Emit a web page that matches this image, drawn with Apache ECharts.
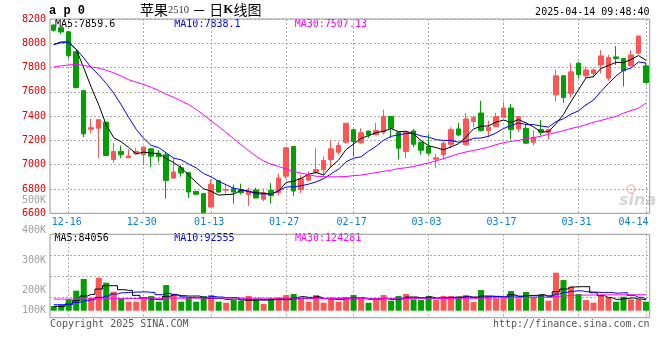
<!DOCTYPE html>
<html><head><meta charset="utf-8">
<script src="https://cdn.jsdelivr.net/npm/echarts@6/dist/echarts.min.js"></script>
<style>html,body{margin:0;padding:0;background:#fff}#c{width:660px;height:360px}</style>
</head><body><div id="c"></div>
<script>
// ---- data ----
const dates = ['12-12','12-13','12-16','12-17','12-18','12-19','12-20','12-23','12-24','12-25','12-26','12-27','12-30','12-31',
'01-02','01-03','01-06','01-07','01-08','01-09','01-10','01-13','01-14','01-15','01-16','01-17','01-20','01-21','01-22','01-23','01-24','01-27',
'02-05','02-06','02-07','02-10','02-11','02-12','02-13','02-14','02-17','02-18','02-19','02-20','02-21','02-24','02-25','02-26','02-27','02-28',
'03-03','03-04','03-05','03-06','03-07','03-10','03-11','03-12','03-13','03-14','03-17','03-18','03-19','03-20','03-21','03-24','03-25','03-26','03-27','03-28','03-31',
'04-01','04-02','04-03','04-07','04-08','04-09','04-10','04-11','04-14'];
const xTickLabels = ['12-16','12-30','01-13','01-27','02-17','03-03','03-17','03-31','04-14'];

const opens = [8150,8128,8095,7930,7610,7292,7300,7350,7043,7108,
7057,7090,7084,7131,7095,7082,6890,6975,6935,6781,
6762,6652,6868,6790,6803,6789,6754,6792,6715,6789,
6770,6906,7150,6795,6873,6939,6958,7043,7103,7185,
7289,7180,7277,7248,7267,7398,7267,7109,7278,7185,
7150,7046,7082,7168,7295,7164,7355,7426,7281,7314,
7390,7467,7295,7300,7185,7289,7267,7576,7732,7587,
7836,7732,7751,7822,7713,7888,7874,7814,7918,7814];
const closes = [8107,8093,7900,7636,7254,7305,7371,7076,7109,7082,
7072,7110,7145,7070,7065,6871,6940,6931,6775,6757,
6605,6838,6775,6797,6775,6770,6783,6726,6770,6745,
6890,7139,6783,6885,6912,6961,7035,7131,7158,7341,
7191,7264,7245,7281,7398,7300,7136,7267,7168,7119,
7095,7057,7177,7289,7245,7377,7387,7281,7308,7396,
7467,7289,7396,7177,7226,7267,7289,7732,7554,7765,
7743,7781,7781,7896,7882,7874,7773,7904,8060,7677];
const lows = [8095,8075,7875,7628,7226,7259,7054,7070,7016,7054,
7055,7082,6995,6980,7020,6720,6885,6901,6726,6750,
6600,6650,6770,6762,6680,6754,6660,6724,6701,6680,
6748,6885,6742,6767,6870,6926,6912,6980,7082,7172,
7070,7172,7221,7245,7248,7221,7043,7054,7144,7082,
7082,6975,7043,7136,7234,7160,7308,7273,7226,7310,
7388,7213,7267,7175,7158,7240,7207,7521,7508,7554,
7710,7710,7716,7751,7691,7822,7644,7806,7910,7675];
const highs = [8155,8130,8100,7935,7612,7377,7375,7352,7180,7158,
7125,7136,7150,7135,7120,7105,7050,6998,6938,6785,
6765,6880,6870,6830,6836,6844,6811,6811,6803,6849,
6926,7142,7152,6918,6945,7136,7070,7199,7185,7343,
7292,7300,7280,7344,7453,7400,7270,7275,7292,7190,
7254,7090,7193,7308,7344,7426,7404,7527,7363,7426,
7519,7500,7398,7336,7281,7369,7292,7781,7740,7836,
7847,7806,7795,7943,7904,7978,7880,7943,8062,7841];

const ma5 = [7990,8012,8010,7950,7798,7638,7493,7328,7223,7189,
7142,7090,7104,7096,7092,7052,7018,6975,6916,6855,
6802,6781,6750,6754,6758,6791,6780,6770,6765,6759,
6783,6854,6865,6888,6922,6936,6915,6985,7039,7125,
7171,7217,7240,7264,7276,7298,7272,7276,7254,7198,
7157,7141,7123,7147,7173,7229,7295,7316,7320,7350,
7368,7348,7371,7345,7311,7271,7271,7338,7414,7521,
7617,7715,7725,7793,7817,7843,7841,7866,7899,7860];
const ma10 = [7990,8005,8005,7950,7880,7800,7740,7670,7590,7493,
7390,7292,7216,7159,7141,7097,7054,7040,7006,6974,
6927,6900,6863,6835,6806,6796,6781,6760,6760,6758,
6787,6817,6818,6827,6840,6859,6885,6925,6964,7024,
7054,7066,7112,7152,7201,7234,7245,7258,7259,7237,
7227,7207,7200,7201,7185,7193,7218,7220,7234,7261,
7298,7322,7344,7332,7330,7319,7310,7355,7379,7416,
7444,7493,7532,7603,7669,7730,7778,7795,7846,7838];
const ma30 = [7805,7814,7822,7826,7818,7805,7795,7778,7757,7730,
7700,7680,7660,7638,7612,7580,7555,7525,7495,7455,
7410,7360,7315,7265,7215,7165,7115,7070,7030,7005,
6985,6965,6945,6930,6918,6905,6902,6900,6901,6903,
6910,6915,6925,6935,6945,6955,6968,6975,6985,7000,
7015,7032,7050,7070,7090,7105,7118,7130,7145,7165,
7182,7192,7200,7215,7222,7235,7250,7265,7280,7298,
7312,7330,7350,7365,7382,7398,7425,7445,7465,7507];

// volume in thousands of lots
const volumes = [36.2,43.9,87.9,155.1,245.6,100.8,255.9,217.1,147.3,95.6,
69.8,69.8,103.4,113.7,69.8,199.0,131.8,69.8,103.4,69.8,
113.7,121.5,69.8,62.0,82.7,77.6,113.7,82.7,51.7,95.6,
103.4,121.5,129.3,95.6,69.8,121.5,62.0,103.4,69.8,103.4,
121.5,95.6,62.0,82.7,121.5,77.6,113.7,129.3,87.9,82.7,
113.7,82.7,113.7,113.7,108.6,121.5,67.2,160.3,113.7,95.6,
95.6,152.5,95.6,144.8,103.4,121.5,77.6,294.7,237.8,186.1,
129.3,82.7,62.0,121.5,103.4,69.8,108.6,87.9,87.9,69.8];
const volMa5 = [33.6,33.6,51.7,77.6,113.7,126.7,168.0,193.9,193.9,162.9,
157.7,118.9,98.2,90.5,85.3,111.2,124.1,116.3,113.7,113.7,
98.2,95.6,95.6,87.9,90.5,82.7,80.1,82.7,82.7,85.3,
90.5,90.5,100.8,108.6,103.4,108.6,95.6,90.5,85.3,93.1,
93.1,98.2,90.5,93.1,95.6,87.9,90.5,106.0,106.0,98.2,
106.0,98.2,95.6,100.8,106.0,108.6,106.0,113.7,113.7,111.2,
106.0,124.1,111.2,116.3,118.9,124.1,108.6,147.3,168.0,183.5,
186.1,186.1,139.6,116.3,100.8,87.9,93.1,98.2,90.5,84.1];
const volMa10 = [46.5,46.5,46.5,64.6,77.6,85.3,103.4,113.7,129.3,138.6,
141.9,144.5,146.1,141.9,124.3,134.2,121.8,107.0,102.6,100.0,
104.4,109.6,106.2,101.1,102.4,90.2,88.4,89.7,84.5,87.1,
86.1,86.1,92.0,95.4,94.1,98.5,93.3,95.4,97.2,98.0,
99.8,97.2,90.5,89.2,94.4,90.0,95.1,97.7,99.5,97.5,
96.7,95.4,100.6,103.7,102.4,106.8,102.1,105.2,107.8,109.1,
107.3,114.3,112.4,115.5,115.0,115.0,116.1,129.5,141.9,151.0,
154.3,147.3,144.0,141.7,141.7,136.5,139.6,118.9,103.9,92.6];
const volMa30 = [90.5,90.0,89.6,89.9,90.8,91.4,92.3,93.1,93.8,94.1,
94.6,95.0,95.3,95.9,96.0,96.6,97.1,97.0,97.2,97.5,
97.8,98.1,98.0,97.7,97.9,97.6,97.4,97.0,96.8,96.5,
96.9,97.3,97.6,97.2,96.5,96.1,95.2,94.5,93.8,93.9,
94.4,94.6,94.1,93.5,93.8,92.8,92.3,93.0,93.4,93.6,
93.9,93.7,94.4,95.2,95.6,96.3,96.0,97.1,98.4,99.0,
99.3,100.6,100.9,101.8,102.6,103.3,103.9,110.9,116.3,119.2,
120.5,120.9,121.3,122.6,122.8,123.2,123.6,123.5,123.9,124.3];
const volTickLabels = [100,200,300,400,500];

// ---- chart ----
const MONO = '"DejaVu Sans Mono", monospace';
const RED = '#ff5555', GREEN = '#00a000';
const GRID_LINE = {color:'#aaaaaa', type:[2,2], width:1};
const isTick = (i, v) => xTickLabels.indexOf(v) >= 0;
const candles = dates.map((d,i)=>[opens[i], closes[i], lows[i], highs[i]]);
const L = 50, W = 599.7;

const chart = echarts.init(document.getElementById('c'), null, {renderer:'canvas', width:660, height:360});
const lineS = (name, data, color, xi, yi, step) => ({
  name, type:'line', data, xAxisIndex:xi, yAxisIndex:yi, symbol:'none', silent:true,
  step: step || false, lineStyle:{color, width:1}, z:5
});
const txt = (x, y, s, color, extra) => ({type:'text', x, y, silent:true,
  style:Object.assign({text:s, fill:color, font:'10px ' + MONO, verticalAlign:'middle'}, extra||{})});

chart.setOption({
  animation:false,
  backgroundColor:'#fff',
  grid:[
    {left:L, top:19, width:W, height:194.3, show:true, borderColor:'#999', borderWidth:1, backgroundColor:'transparent'},
    {left:L, top:234.3, width:W, height:83.4, show:true, borderColor:'#999', borderWidth:1, backgroundColor:'transparent'},
    {left:L, top:200.7, width:W, height:120, show:false}
  ],
  xAxis:[
    {type:'category', gridIndex:0, data:dates, boundaryGap:true,
     axisLine:{show:false}, axisTick:{show:false},
     axisLabel:{interval:isTick, showMaxLabel:true, showMinLabel:true, hideOverlap:false, margin:4,
       formatter:v => v === '04-14' ? '{e|' + v + '}' : '{n|' + v + '}',
       rich:{
         n:{fontFamily:MONO, fontSize:10, color:'#0a7fe0', padding:[0,4,0,0]},
         e:{fontFamily:MONO, fontSize:10, color:'#0a7fe0', padding:[0,25,0,0]}
       }},
     splitLine:{show:true, alignWithLabel:true, interval:isTick, lineStyle:GRID_LINE}},
    {type:'category', gridIndex:1, data:dates, boundaryGap:true,
     axisLine:{show:false}, axisTick:{show:false}, axisLabel:{show:false},
     splitLine:{show:true, alignWithLabel:true, interval:isTick, lineStyle:GRID_LINE}},
    {type:'category', gridIndex:2, data:dates, show:false}
  ],
  yAxis:[
    {type:'value', gridIndex:0, min:6600, max:8200, interval:200, scale:true,
     axisLine:{show:false}, axisTick:{show:false},
     axisLabel:{color:'#e00000', fontFamily:MONO, fontSize:10, margin:4, padding:[0,0,4,0], formatter:v => String(v)},
     splitLine:{show:true, lineStyle:GRID_LINE}},
    {type:'value', gridIndex:1, min:-54.3, max:592.5, show:false},
    {type:'value', gridIndex:1, min:0, max:4, interval:1,
     axisLine:{show:false}, axisTick:{show:false}, axisLabel:{show:false},
     splitLine:{show:true, lineStyle:GRID_LINE}},
    {type:'value', gridIndex:2, min:100, max:500, interval:100,
     axisLine:{show:false}, axisTick:{show:false}, splitLine:{show:false},
     axisLabel:{margin:4, showMinLabel:true, showMaxLabel:true,
       formatter:v => v === volTickLabels[0] ? '{b|' + v + 'K}' : '{a|' + v + 'K}',
       rich:{
         a:{fontFamily:MONO, fontSize:10, color:'#a0a0a0'},
         b:{fontFamily:MONO, fontSize:10, color:'#a0a0a0', padding:[0,0,21,0]}
       }}}
  ],
  series:[
    {name:'K', type:'candlestick', xAxisIndex:0, yAxisIndex:0, data:candles, barWidth:5, silent:true, z:3,
     itemStyle:{color:RED, color0:GREEN, borderColor:RED, borderColor0:GREEN, borderWidth:1}},
    lineS('MA5', ma5, '#000000', 0, 0),
    lineS('MA10', ma10, '#0000ff', 0, 0),
    lineS('MA30', ma30, '#ff00ff', 0, 0),
    {name:'VOL', type:'bar', xAxisIndex:1, yAxisIndex:1, data:volumes, barWidth:6, silent:true, z:3,
     itemStyle:{color:p => closes[p.dataIndex] >= opens[p.dataIndex] ? RED : GREEN}},
    lineS('VMA5', volMa5, '#000000', 1, 1, 'middle'),
    lineS('VMA10', volMa10, '#0000ff', 1, 1, 'middle'),
    lineS('VMA30', volMa30, '#ff00ff', 1, 1, 'middle')
  ],
  graphic:[
    {type:'text', x:49, y:11, silent:true, style:{text:'a p 0', fill:'#000', font:'bold 12px "Liberation Mono", monospace', verticalAlign:'middle'}},
    {type:'text', x:140, y:10, silent:true, style:{
      text:'{t|苹果}{d|2510}{t| － 日}{k|K}{t|线图}', verticalAlign:'middle',
      rich:{
        t:{fontFamily:'"Noto Sans CJK SC"', fontSize:14, fill:'#000'},
        d:{fontFamily:'"Liberation Serif", serif', fontSize:10.5, fill:'#333'},
        k:{fontFamily:'"Liberation Serif", serif', fontSize:13, fontWeight:'bold', fill:'#000'}
      }}},
    txt(649.5, 12, '2025-04-14 09:48:40', '#000', {align:'right'}),
    txt(55, 24, 'MA5:7859.6', '#000'),
    txt(174.3, 24, 'MA10:7838.1', '#0000ff'),
    txt(294.7, 24, 'MA30:7507.13', '#ff00ff'),
    txt(54.5, 238.5, 'MA5:84056', '#000'),
    txt(174.3, 238.5, 'MA10:92555', '#0000ff'),
    txt(295, 238.5, 'MA30:124281', '#ff00ff'),
    txt(50, 324.5, 'Copyright 2025 SINA.COM', '#555'),
    txt(649.5, 324.5, 'http://finance.sina.com.cn', '#555', {align:'right'}),
    {type:'circle', silent:true, shape:{cx:631, cy:189, r:4}, style:{fill:'none', stroke:'rgba(230,90,90,0.3)', lineWidth:2}},
    {type:'text', x:619, y:201, silent:true, style:{text:'sina', fill:'rgba(150,150,150,0.4)', font:'italic bold 16px "DejaVu Sans", sans-serif', verticalAlign:'middle'}}
  ]
});
</script>
</body></html>
